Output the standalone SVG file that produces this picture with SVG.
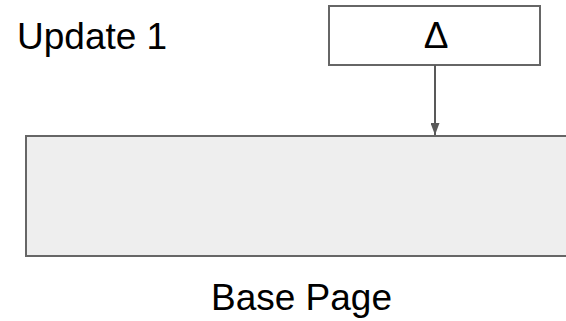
<svg xmlns="http://www.w3.org/2000/svg" width="566" height="321" viewBox="0 0 566 321">
<style>
.t{font-family:"Liberation Sans",Arial,sans-serif;font-size:37px;fill:#000}
.box{stroke:#666;stroke-width:2}
</style>
<defs>
<marker id="ah" viewBox="0 0 12 9" refX="12" refY="4.5" markerWidth="12" markerHeight="9" orient="auto" markerUnits="userSpaceOnUse">
<path d="M0,0L12,4.5L0,9z" fill="#595959"/>
</marker>
</defs>
<rect width="566" height="321" fill="#fff"/>
<g id="update-label"><text class="t" x="17" y="49">Update 1</text></g>
<g id="delta"><rect class="box" x="329" y="6" width="211" height="59" fill="#fff"/><text class="t" x="436" y="48" text-anchor="middle">Δ</text></g>
<g id="base"><rect class="box" x="26" y="136" width="550" height="120" fill="#eeeeee"/><text class="t" x="211" y="310">Base Page</text></g>
<g id="connectors"><line x1="435" y1="65" x2="435" y2="135" stroke="#595959" stroke-width="2" marker-end="url(#ah)"/></g>
</svg>
